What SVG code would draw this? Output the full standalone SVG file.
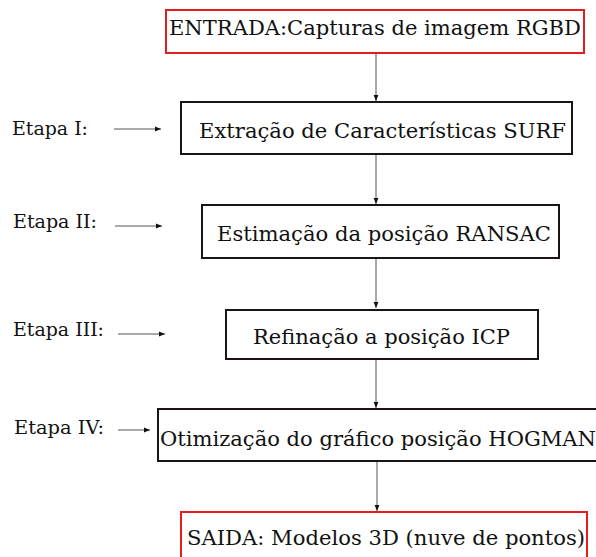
<svg xmlns="http://www.w3.org/2000/svg" width="596" height="557" viewBox="0 0 596 557">
<style>
.box{fill:#fff;stroke:#1a1414;stroke-width:2}
.red{fill:#fff;stroke:#e41e1e;stroke-width:2}
.t{font-family:"DejaVu Serif","Liberation Serif",serif;font-size:21px;fill:#111}
.l{font-family:"DejaVu Serif","Liberation Serif",serif;font-size:18px;fill:#111}
.c{stroke:#555;stroke-width:1;fill:none;marker-end:url(#ah)}
</style>
<defs>
<marker id="ah" viewBox="0 0 10 10" refX="10" refY="5" markerWidth="6" markerHeight="6" markerUnits="userSpaceOnUse" orient="auto">
<path d="M0,1 L10,5 L0,9 z" fill="#111"/>
</marker>
</defs>
<g id="connectors">
<line class="c" x1="376" y1="54" x2="376" y2="101"/>
<line class="c" x1="376" y1="155" x2="376" y2="204"/>
<line class="c" x1="376" y1="259" x2="376" y2="308"/>
<line class="c" x1="376" y1="360" x2="376" y2="408"/>
<line class="c" x1="377" y1="462" x2="377" y2="511"/>
<line class="c" x1="114" y1="129" x2="161" y2="129"/>
<line class="c" x1="115" y1="226" x2="162" y2="226"/>
<line class="c" x1="118" y1="334" x2="165" y2="334"/>
<line class="c" x1="118" y1="430" x2="150" y2="430"/>
</g>
<g id="entrada">
<rect class="red" x="166" y="10" width="418" height="43"/>
<text class="t" x="169" y="35" textLength="412" lengthAdjust="spacingAndGlyphs">ENTRADA:Capturas de imagem RGBD</text>
</g>
<g id="etapa1">
<rect class="box" x="181" y="102" width="391" height="52"/>
<text class="t" x="199" y="138" textLength="367" lengthAdjust="spacingAndGlyphs">Extração de Características SURF</text>
</g>
<g id="etapa2">
<rect class="box" x="202" y="205" width="357" height="53"/>
<text class="t" x="217" y="241" textLength="334" lengthAdjust="spacingAndGlyphs">Estimação da posição RANSAC</text>
</g>
<g id="etapa3">
<rect class="box" x="226" y="310" width="312" height="49"/>
<text class="t" x="253" y="344" textLength="257" lengthAdjust="spacingAndGlyphs">Refinação a posição ICP</text>
</g>
<g id="etapa4">
<rect class="box" x="158" y="409" width="440" height="52"/>
<text class="t" x="160" y="446" textLength="436" lengthAdjust="spacingAndGlyphs">Otimização do gráfico posição HOGMAN</text>
</g>
<g id="saida">
<rect class="red" x="181" y="512" width="406" height="50"/>
<text class="t" x="187" y="545" textLength="398" lengthAdjust="spacingAndGlyphs">SAIDA: Modelos 3D (nuve de pontos)</text>
</g>
<g id="labels">
<text class="l" x="12" y="135" textLength="76" lengthAdjust="spacingAndGlyphs">Etapa I:</text>
<text class="l" x="13" y="228" textLength="84" lengthAdjust="spacingAndGlyphs">Etapa II:</text>
<text class="l" x="13" y="336" textLength="91" lengthAdjust="spacingAndGlyphs">Etapa III:</text>
<text class="l" x="14" y="434" textLength="90" lengthAdjust="spacingAndGlyphs">Etapa IV:</text>
</g>
</svg>
